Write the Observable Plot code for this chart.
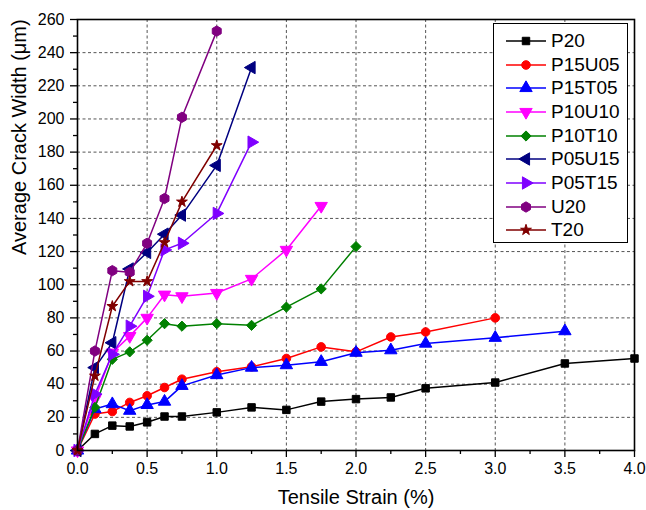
<!DOCTYPE html>
<html><head><meta charset="utf-8">
<script src="https://cdn.jsdelivr.net/npm/d3@7"></script>
<script src="https://cdn.jsdelivr.net/npm/@observablehq/plot@0.6"></script>
<style>
body{margin:0;background:#fff;font-family:Arial,"Liberation Sans",sans-serif}
#wrap{position:relative;width:646px;height:510px}
#legend{position:absolute;left:493px;top:23px;width:135px;height:220px;border:1.5px solid #000;box-sizing:border-box;background:#fff;padding-top:5px}
.row{height:23.7px;display:flex;align-items:center;font-size:19px;color:#000}
.row svg{flex:none}
</style></head><body><div id="wrap"></div>
<script>
// ---- data ----
const seriesNames  = ["P20","P15U05","P15T05","P10U10","P10T10","P05U15","P05T15","U20","T20"];
const seriesColors = ["#000000","#ff0000","#0000ff","#ff00ff","#008000","#000080","#7f00ff","#800080","#800000"];

const strainP20    = [0,0.125,0.25,0.375,0.5,0.625,0.75,1.0,1.25,1.5,1.75,2.0,2.25,2.5,3.0,3.5,4.0];
const crackP20     = [0,10,15,14.5,17,20.5,20.5,23,26,24.5,29.5,31,32,37.5,41,52.5,55.5];
const strainP15U05 = [0,0.125,0.25,0.375,0.5,0.625,0.75,1.0,1.25,1.5,1.75,2.0,2.25,2.5,3.0];
const crackP15U05  = [0,22,23.5,29,33,38,43,47.5,50.5,55.5,62.5,59.5,68.5,71.5,80];
const strainP15T05 = [0,0.125,0.25,0.375,0.5,0.625,0.75,1.0,1.25,1.5,1.75,2.0,2.25,2.5,3.0,3.5];
const crackP15T05  = [0,25,28,24,27.5,29.5,39,45.5,50,51.5,53.5,59,60.5,64.5,68,72];
const strainP10U10 = [0,0.125,0.25,0.375,0.5,0.625,0.75,1.0,1.25,1.5,1.75];
const crackP10U10  = [0,31,59,69,80,94,93,95,103.5,121,147.5];
const strainP10T10 = [0,0.125,0.25,0.375,0.5,0.625,0.75,1.0,1.25,1.5,1.75,2.0];
const crackP10T10  = [0,26,55,59.5,66.5,76.5,75,76.5,75.5,86.5,97.5,123];
const strainP05U15 = [0,0.125,0.25,0.375,0.5,0.625,0.75,1.0,1.25];
const crackP05U15  = [0,50,65,109.5,119.5,130.5,142,172,231];
const strainP05T15 = [0,0.125,0.25,0.375,0.5,0.625,0.75,1.0,1.25];
const crackP05T15  = [0,34,58,75,93,121,125,143,186];
const strainU20    = [0,0.125,0.25,0.375,0.5,0.625,0.75,1.0];
const crackU20     = [0,60,108.5,107.5,125,152,201,253];
const strainT20    = [0,0.125,0.25,0.375,0.5,0.625,0.75,1.0];
const crackT20     = [0,45,87,102,102,125.5,150,184];

const xMajorTicks = [0,0.5,1.0,1.5,2.0,2.5,3.0,3.5,4.0];
const xMinorTicks = [0.25,0.75,1.25,1.75,2.25,2.75,3.25,3.75];
const yMajorTicks = [0,20,40,60,80,100,120,140,160,180,200,220,240,260];
const yMinorTicks = [10,30,50,70,90,110,130,150,170,190,210,230,250];

const strains = [strainP20,strainP15U05,strainP15T05,strainP10U10,strainP10T10,strainP05U15,strainP05T15,strainU20,strainT20];
const cracks  = [crackP20,crackP15U05,crackP15T05,crackP10U10,crackP10T10,crackP05U15,crackP05T15,crackU20,crackT20];

// ---- symbols ----
const sqrt3 = Math.sqrt(3);
function tri(angle){
  return {draw(ctx,size){
    const y = -Math.sqrt(size/(sqrt3*3));
    const pts=[[0,y*2],[-sqrt3*y,-y],[sqrt3*y,-y]];
    const c=Math.cos(angle), s=Math.sin(angle);
    pts.forEach(([px,py],k)=>{const X=px*c-py*s, Y=px*s+py*c; k?ctx.lineTo(X,Y):ctx.moveTo(X,Y);});
    ctx.closePath();
  }};
}
const hexagon = {draw(ctx,size){
  const r = Math.sqrt(2*size/(3*sqrt3));
  for(let k=0;k<6;k++){const a=k*Math.PI/3+Math.PI/6; const X=r*Math.cos(a), Y=r*Math.sin(a); k?ctx.lineTo(X,Y):ctx.moveTo(X,Y);}
  ctx.closePath();
}};
const symbols = [d3.symbolSquare, d3.symbolCircle, tri(0), tri(Math.PI), d3.symbolDiamond2, tri(-Math.PI/2), tri(Math.PI/2), hexagon, d3.symbolStar];
const radii   = [4.2, 4.3, 4.6, 4.6, 4.6, 4.6, 4.6, 4.7, 3.4];

const tables = seriesNames.map((n,i)=>strains[i].map((x,j)=>({series:n, strain:x, crack:cracks[i][j]})));

const marks = [
  Plot.gridX(xMajorTicks.slice(1,-1), {stroke:"#555", strokeOpacity:1, strokeDasharray:"3,2.5", strokeWidth:1}),
  Plot.gridY(yMajorTicks.slice(1,-1), {stroke:"#555", strokeOpacity:1, strokeDasharray:"3,2.5", strokeWidth:1}),
  Plot.axisX(xMajorTicks, {tickSize:7, tickPadding:5, tickFormat:d3.format(".1f"), label:null, strokeWidth:1.3}),
  Plot.axisX(xMinorTicks, {tickSize:4, tickFormat:()=>"", label:null, strokeWidth:1.3}),
  Plot.axisY(yMajorTicks, {tickSize:7, tickPadding:6, label:null, strokeWidth:1.3}),
  Plot.axisY(yMinorTicks, {tickSize:4, tickFormat:()=>"", label:null, strokeWidth:1.3}),
];
tables.forEach((t,i)=>{
  marks.push(Plot.line(t, {x:"strain", y:"crack", stroke:seriesColors[i], strokeWidth:1.5}));
  marks.push(Plot.dot(t, {x:"strain", y:"crack", symbol:symbols[i], r:radii[i], fill:seriesColors[i], stroke:seriesColors[i], strokeWidth:1}));
});
marks.push(Plot.frame({stroke:"#000", strokeWidth:1.6}));
marks.push(Plot.text(["Tensile Strain (%)"], {frameAnchor:"bottom", dy:47, fontSize:20, lineAnchor:"middle", fill:"#000"}));
marks.push(Plot.text(["Average Crack Width (μm)"], {frameAnchor:"left", dx:-58, dy:20, rotate:-90, fontSize:20, lineAnchor:"middle", fill:"#000"}));

const chart = Plot.plot({
  width:646, height:510,
  marginLeft:77, marginRight:12, marginTop:19, marginBottom:60,
  x:{domain:[0,4], label:null},
  y:{domain:[0,260], label:null},
  style:{fontSize:"16px", fontFamily:"Arial, 'Liberation Sans', sans-serif", color:"#000", background:"#fff"},
  marks
});
const wrap = document.getElementById("wrap");
wrap.appendChild(chart);

// ---- legend ----
const legend = document.createElement("div");
legend.id = "legend";
seriesNames.forEach((n,i)=>{
  const row = document.createElement("div"); row.className="row";
  const svg = d3.create("svg").attr("width",57).attr("height",22);
  svg.append("line").attr("x1",12).attr("x2",52).attr("y1",11).attr("y2",11).attr("stroke",seriesColors[i]).attr("stroke-width",1.5);
  svg.append("path").attr("transform","translate(32,11)").attr("d",d3.symbol(symbols[i], Math.PI*radii[i]*radii[i])()).attr("fill",seriesColors[i]).attr("stroke",seriesColors[i]);
  row.appendChild(svg.node());
  const sp = document.createElement("span"); sp.textContent=n; row.appendChild(sp);
  legend.appendChild(row);
});
wrap.appendChild(legend);
</script></body></html>
